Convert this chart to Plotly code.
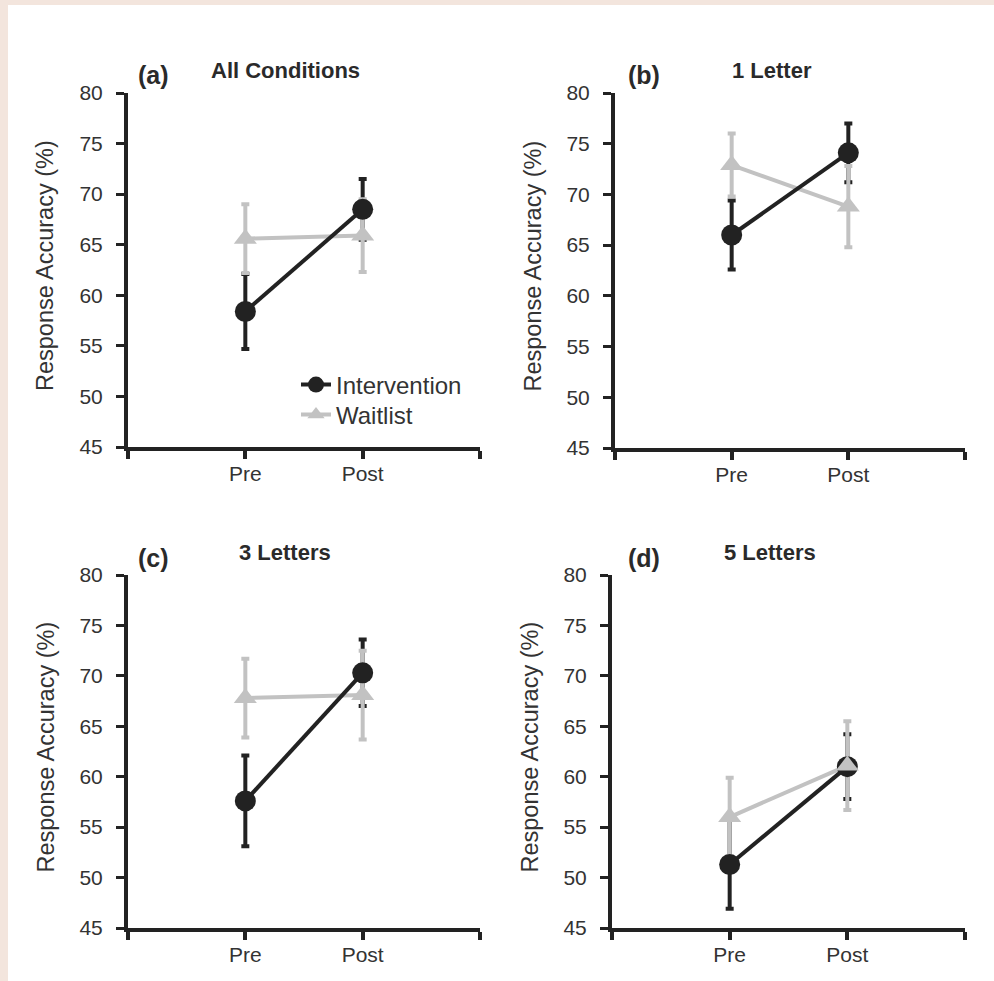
import plotly.graph_objects as go

# ---- data ----
conditions = ["All Conditions", "1 Letter", "3 Letters", "5 Letters"]
panel_labels = ["(a)", "(b)", "(c)", "(d)"]
sessions = ["Pre", "Post"]
session_pos = [1, 2]
y_ticks = [45, 50, 55, 60, 65, 70, 75, 80]

intervention_mean = [[58.4, 68.5], [66.0, 74.1], [57.6, 70.3], [51.3, 61.0]]
intervention_err = [[3.7, 3.0], [3.4, 2.9], [4.5, 3.3], [4.4, 3.2]]
waitlist_mean = [[65.6, 65.9], [72.9, 68.8], [67.8, 68.1], [56.0, 61.1]]
waitlist_err = [[3.4, 3.6], [3.1, 4.0], [3.9, 4.4], [3.9, 4.4]]

W, H = 994, 981
BLACK = "#222222"
GRAY = "#c2c2c2"
TXT = "#333333"
FONT = "Liberation Sans, Arial, sans-serif"


def px(x):
    return x / W


def py(y):
    return 1 - y / H


# panel pixel boxes: (x_left, x_right, y_top, y_bottom)
boxes = [(128, 480, 93, 447), (615, 965, 93, 448), (128, 480, 575, 928), (612, 965, 575, 928)]

fig = go.Figure()
layout = {}
annotations = []

for i, (x0, x1, y0, y1) in enumerate(boxes):
    n = "" if i == 0 else str(i + 1)
    xa, ya = "x" + n, "y" + n
    layout["xaxis" + n] = dict(
        domain=[px(x0), px(x1)], range=[0, 3], anchor=ya, automargin=False,
        tickvals=[0] + session_pos + [3], ticktext=[""] + sessions + [""],
        showline=True, linecolor=BLACK, linewidth=4, ticks="outside",
        ticklen=8, tickwidth=4, tickcolor=BLACK, showgrid=False, zeroline=False,
        ticklabelstandoff=-3,
        tickfont=dict(family=FONT, size=21, color=TXT), fixedrange=True,
    )
    layout["yaxis" + n] = dict(
        domain=[py(y1), py(y0)], range=[45, 80], anchor=xa, automargin=False,
        tickvals=y_ticks, showline=True, linecolor=BLACK, linewidth=4,
        ticks="outside", ticklen=8, tickwidth=3, tickcolor=BLACK,
        showgrid=False, zeroline=False, ticklabelstandoff=9,
        tickfont=dict(family=FONT, size=21, color=TXT), fixedrange=True,
    )
    # error bars: intervention first, waitlist over it
    for mean, err, col in ((intervention_mean, intervention_err, BLACK),
                           (waitlist_mean, waitlist_err, GRAY)):
        fig.add_trace(go.Scatter(
            x=session_pos, y=mean[i], mode="markers", xaxis=xa, yaxis=ya,
            marker=dict(size=1, color="rgba(0,0,0,0)"), showlegend=False,
            hoverinfo="skip",
            error_y=dict(type="data", array=err[i], color=col, thickness=4, width=4),
        ))
    # lines
    fig.add_trace(go.Scatter(x=session_pos, y=waitlist_mean[i], mode="lines",
                             line=dict(color=GRAY, width=4), xaxis=xa, yaxis=ya,
                             showlegend=False))
    fig.add_trace(go.Scatter(x=session_pos, y=intervention_mean[i], mode="lines",
                             line=dict(color=BLACK, width=4), xaxis=xa, yaxis=ya,
                             showlegend=False))
    # markers
    fig.add_trace(go.Scatter(x=session_pos, y=intervention_mean[i], mode="markers",
                             marker=dict(symbol="circle", size=21, color=BLACK),
                             xaxis=xa, yaxis=ya, showlegend=False))
    fig.add_trace(go.Scatter(x=session_pos, y=waitlist_mean[i], mode="markers",
                             marker=dict(symbol="triangle-up", size=20, color=GRAY),
                             xaxis=xa, yaxis=ya, showlegend=False))

    # y-axis title
    annotations.append(dict(
        text="Response Accuracy (%)", x=px(x0 - 83), y=py((y0 + y1) / 2 - 4),
        xref="paper", yref="paper", textangle=-90, showarrow=False,
        xanchor="center", yanchor="middle",
        font=dict(family=FONT, size=23.5, color=TXT)))

# titles
label_pos = [(136, 75), (626, 75), (136, 558), (626, 558)]
title_pos = [(285, 70), (772, 70), (285, 552), (770, 552)]
for i in range(4):
    annotations.append(dict(
        text="<b>" + panel_labels[i] + "</b>", x=px(label_pos[i][0]), y=py(label_pos[i][1]),
        xref="paper", yref="paper", showarrow=False, xanchor="left", yanchor="middle",
        font=dict(family=FONT, size=25, color="#2a2a2a")))
    annotations.append(dict(
        text="<b>" + conditions[i] + "</b>", x=px(title_pos[i][0]), y=py(title_pos[i][1]),
        xref="paper", yref="paper", showarrow=False, xanchor="center", yanchor="middle",
        font=dict(family=FONT, size=22, color="#2a2a2a")))

# legend entries (panel a), one legend per row for exact spacing
fig.add_trace(go.Scatter(x=[None], y=[None], mode="lines+markers", name="Intervention",
                         line=dict(color=BLACK, width=4), legend="legend",
                         marker=dict(symbol="circle", size=17, color=BLACK)))
fig.add_trace(go.Scatter(x=[None], y=[None], mode="lines+markers", name="Waitlist",
                         line=dict(color=GRAY, width=4), legend="legend2",
                         marker=dict(symbol="triangle-up", size=15, color=GRAY)))

leg_common = dict(xanchor="left", yanchor="middle", bgcolor="rgba(0,0,0,0)",
                  font=dict(family=FONT, size=24, color=TXT), itemwidth=30)

fig.update_layout(
    width=W, height=H, margin=dict(l=0, r=0, t=0, b=0, pad=0), autosize=False,
    paper_bgcolor="#f3e5dd", plot_bgcolor="white",
    showlegend=True,
    legend=dict(x=px(296), y=py(385), **leg_common),
    legend2=dict(x=px(296), y=py(415), **leg_common),
    annotations=annotations,
    shapes=[dict(type="rect", xref="paper", yref="paper", x0=px(8), x1=1, y0=0, y1=py(5),
                 fillcolor="white", line=dict(width=0), layer="below")],
    **layout,
)

fig.write_html("out.html")
